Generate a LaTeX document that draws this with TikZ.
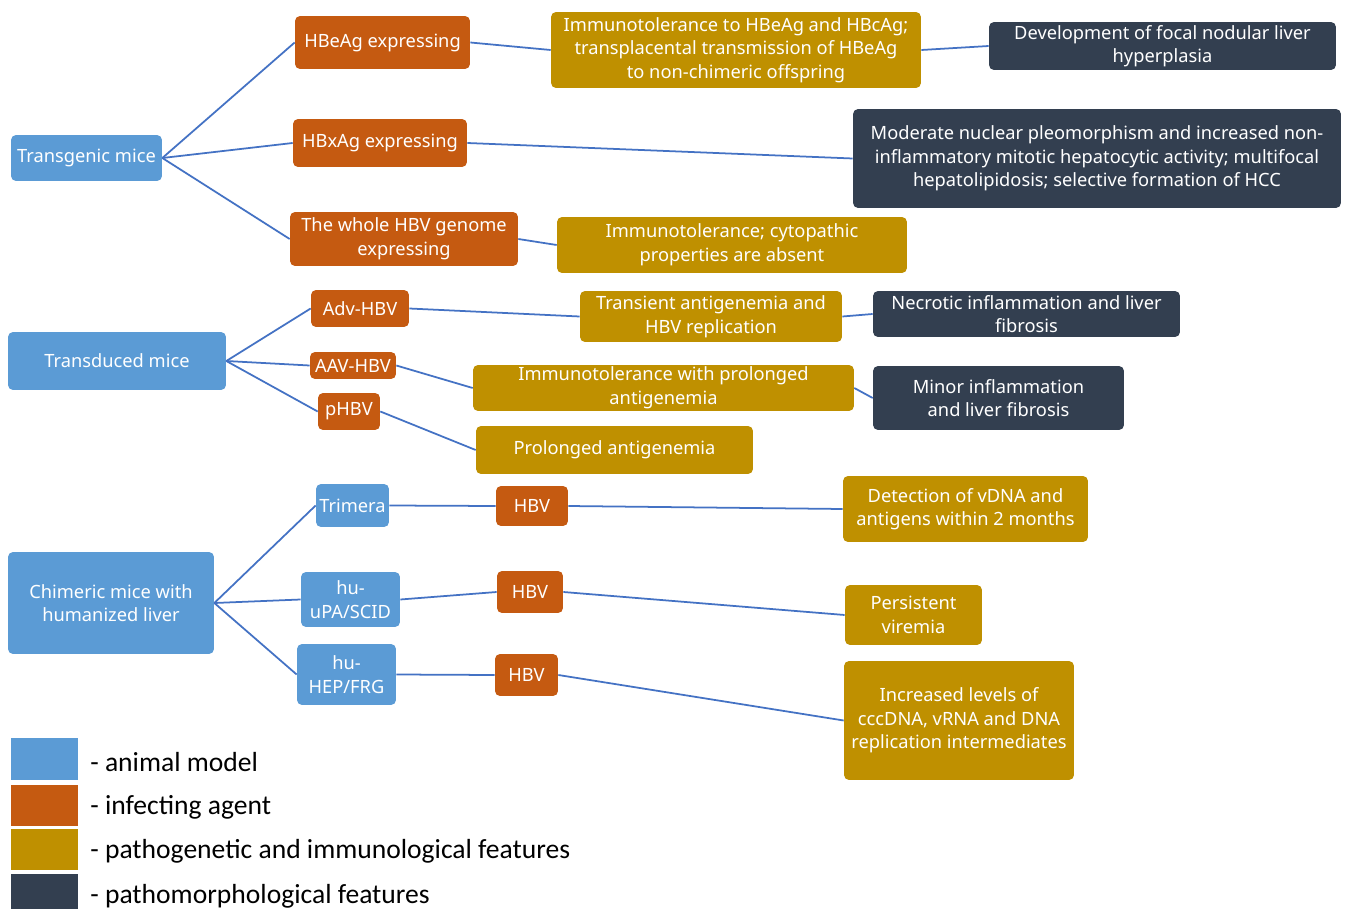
\documentclass[tikz,border=0pt]{standalone}
\usepackage{fontspec}
\setmainfont{Noto Sans}
\newfontfamily\legfont{Carlito}
\usepackage{tikz}
\definecolor{modelcol}{HTML}{5B9BD5}
\definecolor{agentcol}{HTML}{C55A11}
\definecolor{pathocol}{HTML}{BF9000}
\definecolor{morphocol}{HTML}{333F50}
\definecolor{liencol}{HTML}{4472C4}
\tikzset{
    boite/.style={rectangle, rounded corners=1mm, text=white, align=center, inner sep=1pt,
      font=\fontsize{10.4}{13.4}\selectfont},
    modele/.style={boite, fill=modelcol},
    agent/.style={boite, fill=agentcol},
    patho/.style={boite, fill=pathocol},
    morpho/.style={boite, fill=morphocol},
    lien/.style={draw=liencol, line width=1pt},
    carre/.style={rectangle, minimum width=13.4mm, minimum height=8.4mm, inner sep=0pt},
    legende/.style={anchor=west, inner sep=0pt, font=\legfont\fontsize{15.7}{18}\selectfont},
  }
\begin{document}
\begin{tikzpicture}[x=0.02cm, y=-0.02cm]
    \clip (0,0) rectangle (1347,909);
    \fill[white] (0,0) rectangle (1347,909);
    %TRANSGENIC
    \node[modele, minimum width=30.2mm, minimum height=9.2mm] (tg) at (86.5,158) {Transgenic mice};
    \node[agent, minimum width=35mm, minimum height=10.6mm] (hbe) at (382.5,42.5) {HBeAg expressing};
    \node[agent, minimum width=34.8mm, minimum height=9.6mm] (hbx) at (380,143) {HBxAg expressing};
    \node[agent, minimum width=45.6mm, minimum height=10.8mm] (gen) at (404,239) {The whole HBV genome\\expressing};
    \node[patho, minimum width=74mm, minimum height=15.2mm] (imA) at (736,50) {Immunotolerance to HBeAg and HBcAg;\\transplacental transmission of HBeAg\\to non-chimeric offspring};
    \node[morpho, minimum width=69.4mm, minimum height=9.6mm] (fnh) at (1162.5,46) {Development of focal nodular liver\\hyperplasia};
    \node[morpho, minimum width=97.6mm, minimum height=19.8mm] (mod) at (1097,158.5) {Moderate nuclear pleomorphism and increased non-\\inflammatory mitotic hepatocytic activity; multifocal\\hepatolipidosis; selective formation of HCC};
    \node[patho, minimum width=70mm, minimum height=11.2mm] (imB) at (732,245) {Immunotolerance; cytopathic\\properties are absent};
    \draw[lien] (tg.east) -- (hbe.west);
    \draw[lien] (tg.east) -- (hbx.west);
    \draw[lien] (tg.east) -- (gen.west);
    \draw[lien] (hbe.east) -- (imA.west);
    \draw[lien] (imA.east) -- (fnh.west);
    \draw[lien] (hbx.east) -- (mod.west);
    \draw[lien] (gen.east) -- (imB.west);
    %TRANSDUCED
    \node[modele, minimum width=43.6mm, minimum height=11.6mm] (td) at (117,361) {Transduced mice};
    \node[agent, minimum width=19.6mm, minimum height=7.4mm] (adv) at (360,308.5) {Adv-HBV};
    \node[agent, minimum width=17.2mm, minimum height=5.4mm] (aav) at (353,365.5) {AAV-HBV};
    \node[agent, minimum width=12.4mm, minimum height=7.4mm] (phbv) at (349,411.5) {pHBV};
    \node[patho, minimum width=52.4mm, minimum height=10.2mm] (trs) at (711,316.5) {Transient antigenemia and\\HBV replication};
    \node[morpho, minimum width=61.4mm, minimum height=9.2mm] (nec) at (1026.5,314) {Necrotic inflammation and liver\\fibrosis};
    \node[patho, minimum width=76.2mm, minimum height=9.2mm] (imC) at (663.5,388) {Immunotolerance with prolonged\\antigenemia};
    \node[morpho, minimum width=50.2mm, minimum height=12.8mm] (minr) at (998.5,398) {Minor inflammation\\and liver fibrosis};
    \node[patho, minimum width=55.4mm, minimum height=9.6mm] (prl) at (614.5,450) {Prolonged antigenemia};
    \draw[lien] (td.east) -- (adv.west);
    \draw[lien] (td.east) -- (aav.west);
    \draw[lien] (td.east) -- (phbv.west);
    \draw[lien] (adv.east) -- (trs.west);
    \draw[lien] (trs.east) -- (nec.west);
    \draw[lien] (aav.east) -- (imC.west);
    \draw[lien] (imC.east) -- (minr.west);
    \draw[lien] (phbv.east) -- (prl.west);
    %CHIMERIC
    \node[modele, minimum width=41.2mm, minimum height=20.4mm] (chm) at (111,603) {Chimeric mice with\\humanized liver};
    \node[modele, minimum width=14.6mm, minimum height=8.6mm] (trm) at (352.5,505.5) {Trimera};
    \node[modele, minimum width=19.8mm, minimum height=11mm] (upa) at (350.5,599.5) {hu-\\uPA/SCID};
    \node[modele, minimum width=19.8mm, minimum height=12.2mm] (frg) at (346.5,674.5) {hu-\\HEP/FRG};
    \node[agent, minimum width=14.4mm, minimum height=8mm] (hbvA) at (532,506) {HBV};
    \node[agent, minimum width=13.2mm, minimum height=8.4mm] (hbvB) at (530,592) {HBV};
    \node[agent, minimum width=12.6mm, minimum height=8.4mm] (hbvC) at (526.5,675) {HBV};
    \node[patho, minimum width=49mm, minimum height=13.2mm] (det) at (965.5,509) {Detection of vDNA and\\antigens within 2 months};
    \node[patho, minimum width=27.4mm, minimum height=12mm] (per) at (913.5,615) {Persistent\\viremia};
    \node[patho, minimum width=46mm, minimum height=23.8mm] (inc) at (959,720.5) {Increased levels of\\cccDNA, vRNA and DNA\\replication intermediates};
    \draw[lien] (chm.east) -- (trm.west);
    \draw[lien] (chm.east) -- (upa.west);
    \draw[lien] (chm.east) -- (frg.west);
    \draw[lien] (trm.east) -- (hbvA.west);
    \draw[lien] (upa.east) -- (hbvB.west);
    \draw[lien] (frg.east) -- (hbvC.west);
    \draw[lien] (hbvA.east) -- (det.west);
    \draw[lien] (hbvB.east) -- (per.west);
    \draw[lien] (hbvC.east) -- (inc.west);
    %LEGENDE
    \node[carre, fill=modelcol] (cA) at (44.5,759) {};
    \node[carre, fill=agentcol] (cB) at (44.5,805.5) {};
    \node[carre, fill=pathocol] (cC) at (44.5,849.5) {};
    \node[carre, fill=morphocol] (cD) at (44.5,895) {};
    \node[legende] (lA) at (90,762) {- animal model};
    \node[legende] (lB) at (90,807) {- infecting agent};
    \node[legende] (lC) at (90,851) {- pathogenetic and immunological features};
    \node[legende] (lD) at (90,896) {- pathomorphological features};
\end{tikzpicture}
\end{document}
